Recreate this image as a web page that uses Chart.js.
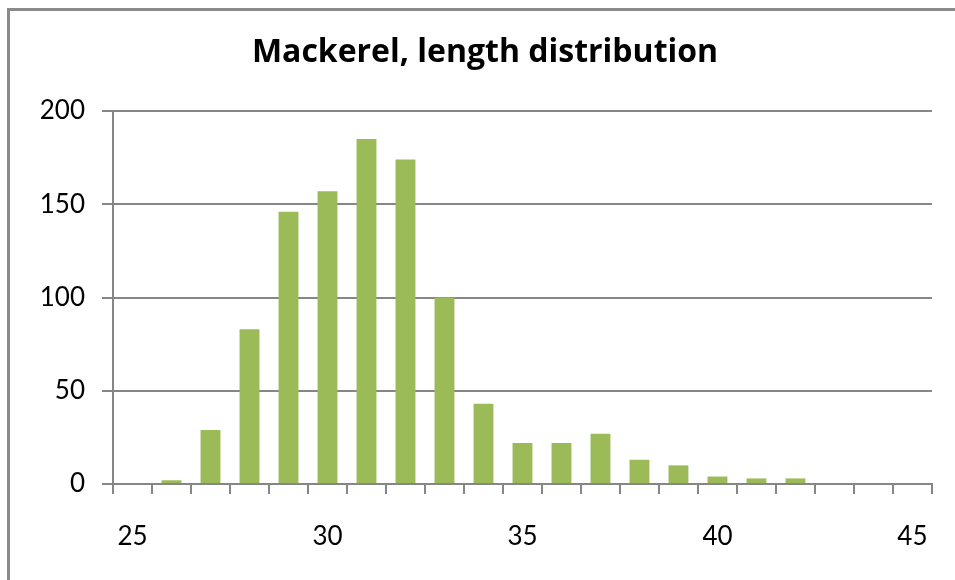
<!DOCTYPE html>
<html>
<head>
<meta charset="utf-8">
<script src="https://cdn.jsdelivr.net/npm/chart.js@4/dist/chart.umd.min.js"></script>
<style>
  html, body { margin: 0; padding: 0; background: #fff; overflow: hidden; }
  #wrap { position: relative; width: 955px; height: 580px; }
  #frame {
    position: absolute; left: 7px; top: 8px; width: 1000px; height: 700px;
    border-left: 3px solid #8a8a8a; border-top: 3px solid #8a8a8a;
    box-sizing: border-box;
  }
  canvas { position: absolute; left: 0; top: 0; }
</style>
</head>
<body>
<div id="wrap">
  <div id="frame"></div>
  <canvas id="c" width="955" height="580"></canvas>
</div>
<script>
// Length classes (cm) and number of fish counted in each
const lengths = [25, 26, 27, 28, 29, 30, 31, 32, 33, 34, 35, 36, 37, 38, 39, 40, 41, 42, 43, 44, 45];
const counts  = [0, 2, 29, 83, 146, 157, 185, 174, 100, 43, 22, 22, 27, 13, 10, 4, 3, 3, 0, 0, 0];
const yTicks  = [0, 50, 100, 150, 200];

const FONT = "Lato, 'Open Sans', sans-serif";
const TITLE_FONT = "'Open Sans', Lato, sans-serif";
const GREY = '#868686';

new Chart(document.getElementById('c'), {
  type: 'bar',
  data: {
    labels: lengths.map(String),
    datasets: [{
      data: counts,
      backgroundColor: '#9BBB59',
      borderWidth: 0,
      barPercentage: 0.51,
      categoryPercentage: 1.0
    }]
  },
  options: {
    responsive: false,
    animation: false,
    devicePixelRatio: 1,
    layout: { padding: { left: 35, right: 20, top: 0, bottom: 0 } },
    plugins: {
      legend: { display: false },
      tooltip: { enabled: false },
      title: {
        display: true,
        text: 'Mackerel, length distribution',
        color: '#000',
        font: { family: TITLE_FONT, size: 32, weight: 'bold', lineHeight: 1.2 },
        padding: { top: 34, bottom: 38.6 }
      }
    },
    scales: {
      x: {
        type: 'category',
        offset: true,
        grid: {
          offset: true,
          drawOnChartArea: false,
          drawTicks: true,
          tickLength: 10,
          color: GREY,
          lineWidth: 2
        },
        border: { display: true, color: GREY, width: 2 },
        ticks: {
          autoSkip: false,
          maxRotation: 0,
          color: '#000',
          padding: 27,
          font: { family: FONT, size: 26 },
          callback: function (value, index) {
            const v = lengths[index];
            return v % 5 === 0 ? String(v) : '';
          }
        },
        afterFit: function (scale) { scale.height = 96; }
      },
      y: {
        min: 0,
        max: 200,
        afterBuildTicks: function (scale) {
          scale.ticks = yTicks.map(v => ({ value: v }));
        },
        grid: {
          color: GREY,
          lineWidth: 2,
          drawTicks: true,
          tickLength: 11
        },
        border: { display: true, color: GREY, width: 2 },
        ticks: {
          color: '#000',
          padding: 17,
          font: { family: FONT, size: 26 }
        },
        afterFit: function (scale) { scale.width = 78; }
      }
    }
  }
});
</script>
</body>
</html>
